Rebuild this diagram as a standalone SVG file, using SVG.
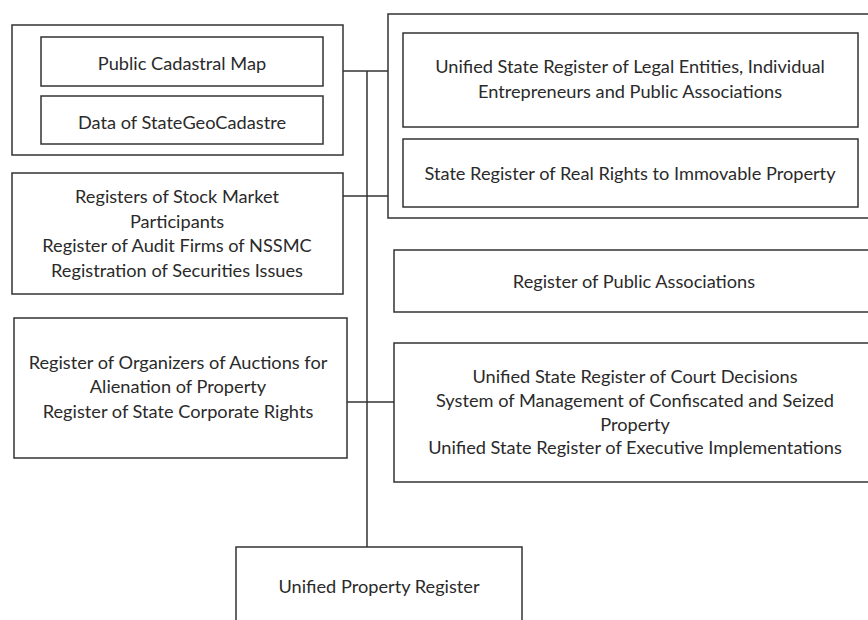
<svg xmlns="http://www.w3.org/2000/svg" width="868" height="620" viewBox="0 0 868 620">
<style>
.box{fill:none;stroke:#333;stroke-width:1.5}
.conn{fill:none;stroke:#333;stroke-width:1.5}
text{font-family:Lato,"Liberation Sans",sans-serif;font-size:18.2px;fill:#2a2a2a;text-anchor:middle}
</style>
<rect x="0" y="0" width="868" height="620" fill="#fff"/>
<g id="connectors">
<line class="conn" x1="367" y1="71" x2="367" y2="547"/>
<line class="conn" x1="343" y1="71" x2="388" y2="71"/>
<line class="conn" x1="343" y1="196" x2="388" y2="196"/>
<line class="conn" x1="347" y1="402" x2="394" y2="402"/>
</g>
<g id="cadastre-group">
<rect class="box" x="12" y="25" width="331" height="130"/>
</g>
<g id="public-cadastral-map">
<rect class="box" x="41" y="37" width="282" height="49"/>
<text x="182" y="70">Public Cadastral Map</text>
</g>
<g id="stategeocadastre">
<rect class="box" x="41" y="96" width="282" height="48"/>
<text x="182" y="129">Data of StateGeoCadastre</text>
</g>
<g id="right-group">
<rect class="box" x="388" y="14" width="490" height="204"/>
</g>
<g id="unified-legal-entities">
<rect class="box" x="403" y="33" width="455" height="94"/>
<text x="630" y="73">Unified State Register of Legal Entities, Individual</text>
<text x="630" y="98">Entrepreneurs and Public Associations</text>
</g>
<g id="real-rights">
<rect class="box" x="403" y="139" width="455" height="68"/>
<text x="630" y="180">State Register of Real Rights to Immovable Property</text>
</g>
<g id="stock-market">
<rect class="box" x="12" y="173" width="331" height="121"/>
<text x="177" y="203">Registers of Stock Market</text>
<text x="177" y="228">Participants</text>
<text x="177" y="252">Register of Audit Firms of NSSMC</text>
<text x="177" y="277">Registration of Securities Issues</text>
</g>
<g id="public-associations">
<rect class="box" x="394" y="250" width="482" height="62"/>
<text x="634" y="288">Register of Public Associations</text>
</g>
<g id="auctions">
<rect class="box" x="14" y="318" width="333" height="140"/>
<text x="178" y="369">Register of Organizers of Auctions for</text>
<text x="178" y="393">Alienation of Property</text>
<text x="178" y="418">Register of State Corporate Rights</text>
</g>
<g id="court-decisions">
<rect class="box" x="394" y="343" width="482" height="139"/>
<text x="635" y="383">Unified State Register of Court Decisions</text>
<text x="635" y="407">System of Management of Confiscated and Seized</text>
<text x="635" y="431">Property</text>
<text x="635" y="454">Unified State Register of Executive Implementations</text>
</g>
<g id="unified-property-register">
<rect class="box" x="236" y="547" width="286" height="90"/>
<text x="379" y="593">Unified Property Register</text>
</g>
</svg>
